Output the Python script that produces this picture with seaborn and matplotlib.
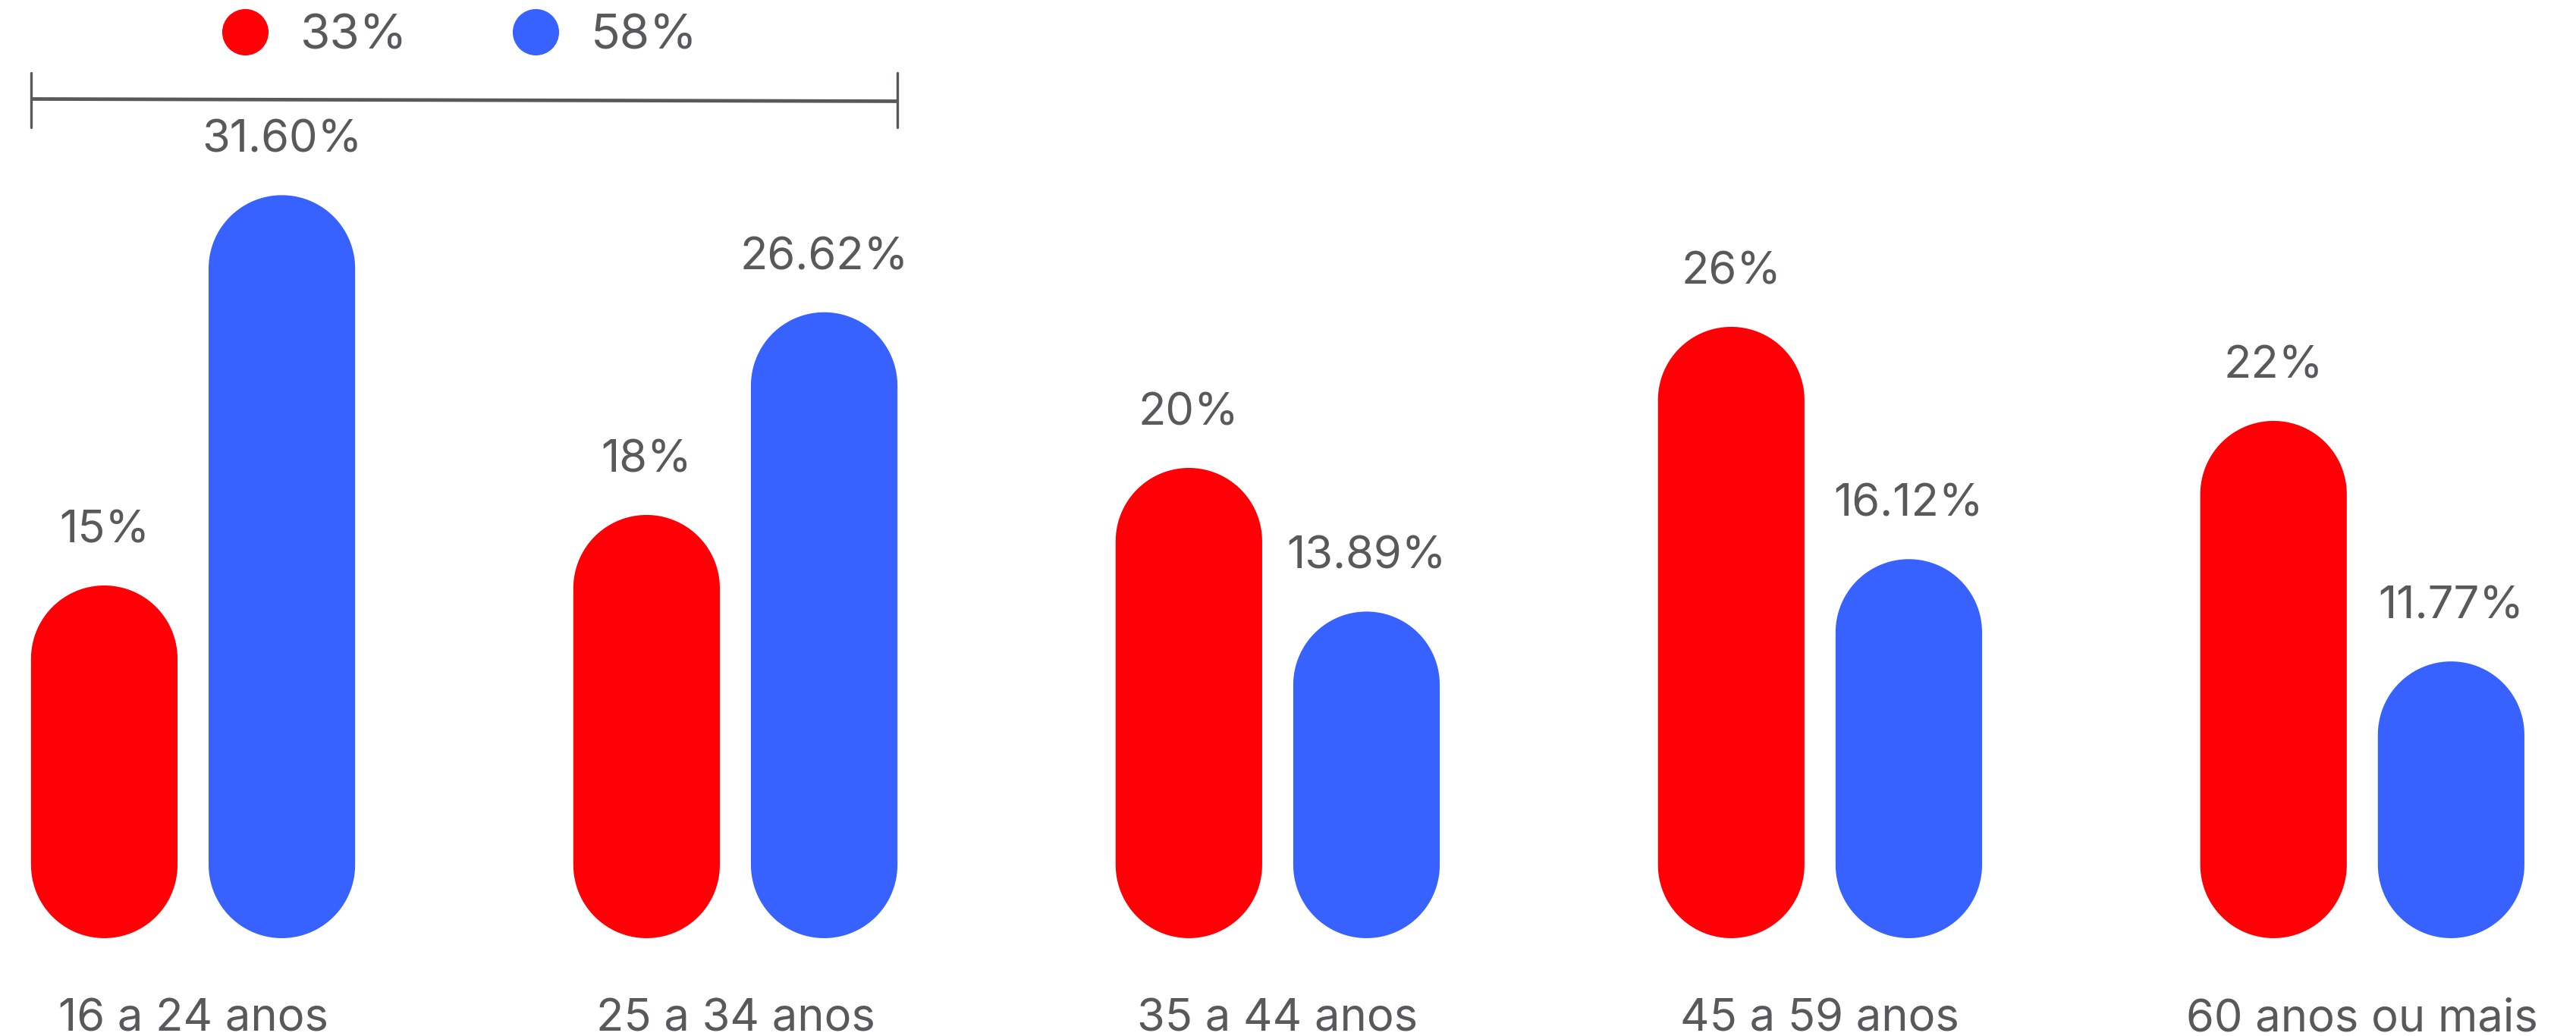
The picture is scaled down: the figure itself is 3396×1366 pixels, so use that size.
import numpy as np
import pandas as pd
import matplotlib
matplotlib.use("Agg")
import matplotlib.pyplot as plt
import seaborn as sns
from matplotlib.patches import Polygon
from matplotlib.lines import Line2D

# ---------------- data ----------------
categories = ["16 a 24 anos", "25 a 34 anos", "35 a 44 anos", "45 a 59 anos", "60 anos ou mais"]
series_names = ["33%", "58%"]
red_values = [15, 18, 20, 26, 22]
blue_values = [31.60, 26.62, 13.89, 16.12, 11.77]
red_labels = ["15%", "18%", "20%", "26%", "22%"]
blue_labels = ["31.60%", "26.62%", "13.89%", "16.12%", "11.77%"]

colors = ["#FF0007", "#3862FF"]
text_color = "#58595B"

df = pd.DataFrame({
    "group": categories * 2,
    "series": [series_names[0]] * len(categories) + [series_names[1]] * len(categories),
    "value": red_values + blue_values,
})
labels_all = [red_labels, blue_labels]

# ---------------- figure ----------------
sns.set_style("white")
plt.rcParams["font.family"] = ["Inter", "DejaVu Sans"]

W, H, DPI = 3396, 1366, 100
fig = plt.figure(figsize=(W / DPI, H / DPI), dpi=DPI)
ax_left, ax_bottom, ax_w, ax_h = 0.0, (H - 1237) / H, 1.0, 1237 / H
ax = fig.add_axes([ax_left, ax_bottom, ax_w, ax_h])

sns.barplot(data=df, x="group", y="value", hue="series", palette=colors,
            width=0.655, gap=0.175, saturation=1, legend=False, ax=ax)

xlim = (-0.356, 4.394)
ylim = (0, 39.9)
ax.set_xlim(*xlim)
ax.set_ylim(*ylim)

px_x = W * ax_w / (xlim[1] - xlim[0])
px_y = H * ax_h / (ylim[1] - ylim[0])
aspect = px_x / px_y


def capsule(x, w, h, n=60):
    rx = w / 2
    ry = rx * aspect
    cx = x + rx
    t_bot = np.linspace(np.pi, 2 * np.pi, n)
    t_top = np.linspace(0, np.pi, n)
    bot = np.column_stack([cx + rx * np.cos(t_bot), ry + ry * np.sin(t_bot)])
    top = np.column_stack([cx + rx * np.cos(t_top), (h - ry) + ry * np.sin(t_top)])
    return np.vstack([bot, top])


label_off = 72 / px_y
for ci, cont in enumerate(ax.containers):
    for bi, bar in enumerate(cont):
        x, w, h = bar.get_x(), bar.get_width(), bar.get_height()
        bar.set_visible(False)
        p = Polygon(capsule(x, w, h), closed=True, facecolor=colors[ci],
                    edgecolor="none", clip_on=False)
        ax.add_patch(p)
        ax.text(x + w / 2, h + label_off, labels_all[ci][bi], ha="center", va="center",
                fontsize=43, color=text_color, clip_on=False)

# bracket spanning the first two groups
b0 = ax.containers[0][0]
b1 = ax.containers[1][1]
xl = b0.get_x()
xr = b1.get_x() + b1.get_width()
yb = (1237 - 132) / px_y
tick = 36 / px_y
ax.plot([xl, xr], [yb + 1.5 / px_y, yb - 1.5 / px_y], color=text_color, lw=3.4, clip_on=False,
        solid_capstyle="butt")
ax.plot([xl, xl], [yb - tick, yb + tick], color=text_color, lw=2.4, clip_on=False)
ax.plot([xr, xr], [yb - tick, yb + tick], color=text_color, lw=2.4, clip_on=False)

# axes styling
sns.despine(ax=ax, left=True, bottom=True)
ax.set_xlabel("")
ax.set_ylabel("")
ax.set_yticks([])
ax.tick_params(axis="x", length=0, pad=57, labelsize=43, labelcolor=text_color)

# legend
handles = [Line2D([], [], marker="o", ls="", markersize=44, markerfacecolor=c,
                  markeredgewidth=0) for c in colors]
fig.legend(handles=handles, labels=series_names, loc="center left",
           bbox_to_anchor=(291 / W, 1 - 48 / H), ncol=2, frameon=False,
           borderpad=0, borderaxespad=0, handlelength=1.0, handletextpad=0.64,
           columnspacing=2.15, fontsize=46, labelcolor=text_color)

fig.savefig("out.png", dpi=DPI, facecolor="white")
